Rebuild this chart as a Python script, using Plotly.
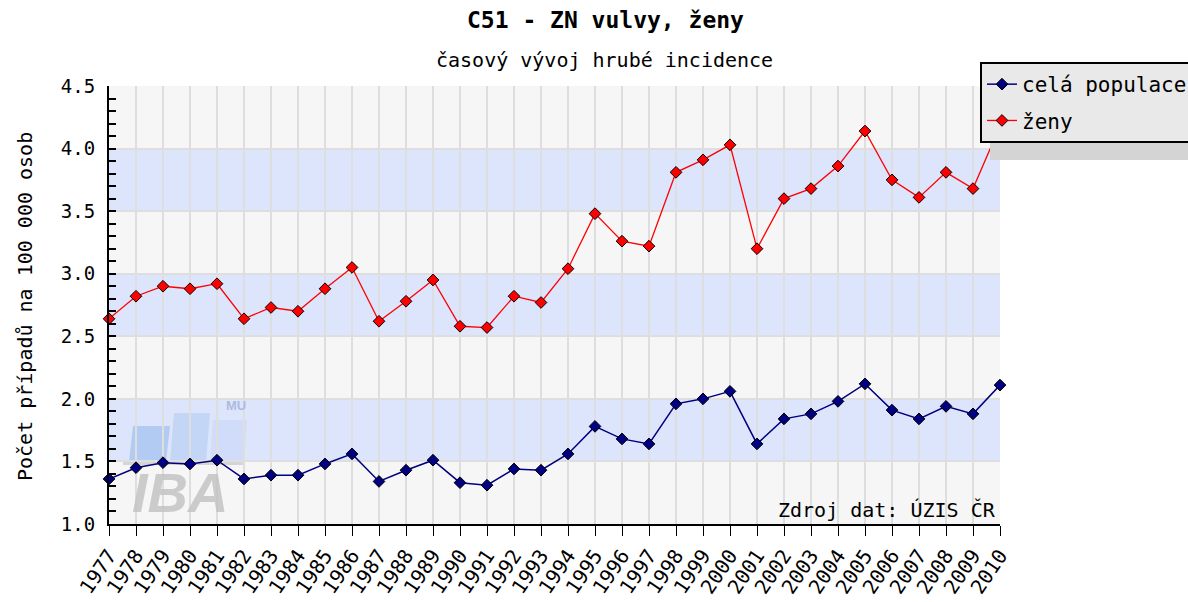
import plotly.graph_objects as go

years = list(range(1977, 2011))
cela_populace = [1.36, 1.45, 1.49, 1.48, 1.51, 1.36, 1.39, 1.39, 1.48, 1.56,
                 1.34, 1.43, 1.51, 1.33, 1.31, 1.44, 1.43, 1.56, 1.78, 1.68,
                 1.64, 1.96, 2.00, 2.06, 1.64, 1.84, 1.88, 1.98, 2.12, 1.91,
                 1.84, 1.94, 1.88, 2.11]
zeny = [2.64, 2.82, 2.90, 2.88, 2.92, 2.64, 2.73, 2.70, 2.88, 3.05,
        2.62, 2.78, 2.95, 2.58, 2.57, 2.82, 2.77, 3.04, 3.48, 3.26,
        3.22, 3.81, 3.91, 4.03, 3.20, 3.60, 3.68, 3.86, 4.14, 3.75,
        3.61, 3.81, 3.68, 4.18]
series_names = ["celá populace", "ženy"]
band_edges = [1.0, 1.5, 2.0, 2.5, 3.0, 3.5, 4.0, 4.5]

title_text = "<b>C51 - ZN vulvy, ženy</b>"
subtitle_text = "časový vývoj hrubé incidence"
ytitle_text = "Počet případů na 100 000 osob"
source_text = "Zdroj dat: ÚZIS ČR"

W, H = 1188, 602
L, R, T, B = 109, 1000, 86, 524
MONO = "DejaVu Sans Mono"


def px(x):
    return (x - L) / (R - L)


def py(y):
    return (B - y) / (B - T)


fig = go.Figure()

fig.add_trace(go.Scatter(
    x=years, y=cela_populace, name=series_names[0], mode="lines+markers",
    line=dict(color="#000080", width=1.5),
    marker=dict(symbol="diamond", size=9, color="#000080",
                line=dict(color="black", width=1)),
    cliponaxis=False, legendgroup="a"))
fig.add_trace(go.Scatter(
    x=years, y=zeny, name=series_names[1], mode="lines+markers",
    line=dict(color="#ff0000", width=1.3),
    marker=dict(symbol="diamond", size=9, color="#ff0000",
                line=dict(color="black", width=1)),
    cliponaxis=False, legendgroup="b"))

shapes = []
# alternating bands
for i in range(len(band_edges) - 1):
    shapes.append(dict(type="rect", xref="paper", yref="y", x0=0, x1=1,
                       y0=band_edges[i], y1=band_edges[i + 1],
                       fillcolor="#f6f6f6" if i % 2 == 0 else "#dde5fc",
                       line=dict(width=0), layer="below"))

# watermark logo (IBA MU)
def para(x0, x1, ytop, ybot, slant, color):
    pts = [(x0, ybot), (x1, ybot), (x1 + slant, ytop), (x0 + slant, ytop)]
    path = "M " + " L ".join(f"{px(a):.5f},{py(b):.5f}" for a, b in pts) + " Z"
    return dict(type="path", xref="paper", yref="paper", path=path,
                fillcolor=color, line=dict(width=0), layer="between")

shapes.append(para(129, 166, 426, 462, 4, "rgba(160,192,238,0.7)"))
shapes.append(para(170, 206, 413, 462, 4, "rgba(178,204,242,0.6)"))
shapes.append(para(210, 244, 420, 462, 3, "rgba(196,214,246,0.55)"))
shapes.append(dict(type="rect", xref="paper", yref="paper",
                   x0=px(123), x1=px(243), y0=py(465), y1=py(461),
                   fillcolor="rgba(205,205,205,0.8)", line=dict(width=0),
                   layer="between"))

# legend shadow
shapes.append(dict(type="rect", xref="paper", yref="paper",
                   x0=px(990), x1=px(1300), y0=py(160), y1=py(72),
                   fillcolor="#d4d4d4", line=dict(width=0), layer="above"))

annotations = [
    dict(text=title_text, x=px(605), y=py(20), xref="paper", yref="paper",
         showarrow=False, xanchor="center", yanchor="middle",
         font=dict(family=MONO, size=23, color="black")),
    dict(text=subtitle_text, x=px(604), y=py(60), xref="paper", yref="paper",
         showarrow=False, xanchor="center", yanchor="middle",
         font=dict(family=MONO, size=20, color="black")),
    dict(text=ytitle_text, x=px(25), y=py(307), xref="paper", yref="paper",
         showarrow=False, xanchor="center", yanchor="middle", textangle=-90,
         font=dict(family=MONO, size=20, color="black")),
    dict(text=source_text, x=px(998), y=py(510), xref="paper", yref="paper",
         showarrow=False, xanchor="right", yanchor="middle",
         font=dict(family=MONO, size=20, color="black")),
    dict(text="<i><b>IBA</b></i>", x=px(180), y=py(492), xref="paper", yref="paper",
         showarrow=False, xanchor="center", yanchor="middle",
         font=dict(family="Liberation Sans", size=56, color="rgba(195,195,195,0.85)")),
    dict(text="<b>MU</b>", x=px(236), y=py(405), xref="paper", yref="paper",
         showarrow=False, xanchor="center", yanchor="middle",
         font=dict(family="Liberation Sans", size=13, color="rgba(165,182,218,0.9)")),
]

fig.update_layout(
    width=W, height=H,
    margin=dict(l=L, r=W - R, t=T, b=H - B, autoexpand=False),
    paper_bgcolor="white", plot_bgcolor="#f6f6f6",
    shapes=shapes, annotations=annotations,
    showlegend=True,
    legend=dict(x=px(980), y=py(62), xanchor="left", yanchor="top",
                bgcolor="#e9e9e9", bordercolor="black", borderwidth=2,
                font=dict(family=MONO, size=21, color="black"),
                tracegroupgap=6, itemwidth=30),
    xaxis=dict(range=[1977, 2010], tickmode="array", tickvals=years,
               ticktext=[str(y) for y in years], tickangle=-56,
               ticks="outside", ticklen=10, tickcolor="black", tickwidth=1,
               showline=True, linecolor="black", linewidth=2,
               showgrid=True, gridcolor="#dedede", gridwidth=2,
               zeroline=False,
               tickfont=dict(family=MONO, size=20, color="black")),
    yaxis=dict(range=[1.0, 4.5], tickmode="array", tickvals=band_edges,
               ticktext=[f"{v:.1f}" for v in band_edges],
               ticks="inside", ticklen=7, tickcolor="black", tickwidth=2,
               minor=dict(dtick=0.1, ticks="inside", ticklen=7,
                          tickcolor="black", tickwidth=2, showgrid=False),
               showline=True, linecolor="black", linewidth=2,
               showgrid=True, gridcolor="#dedede", gridwidth=2,
               zeroline=False, ticklabelstandoff=8,
               tickfont=dict(family=MONO, size=19, color="black")),
)

fig.write_html("out.html", config={"displayModeBar": False},
               post_script="document.body.style.margin='0';document.body.style.overflow='hidden';")
